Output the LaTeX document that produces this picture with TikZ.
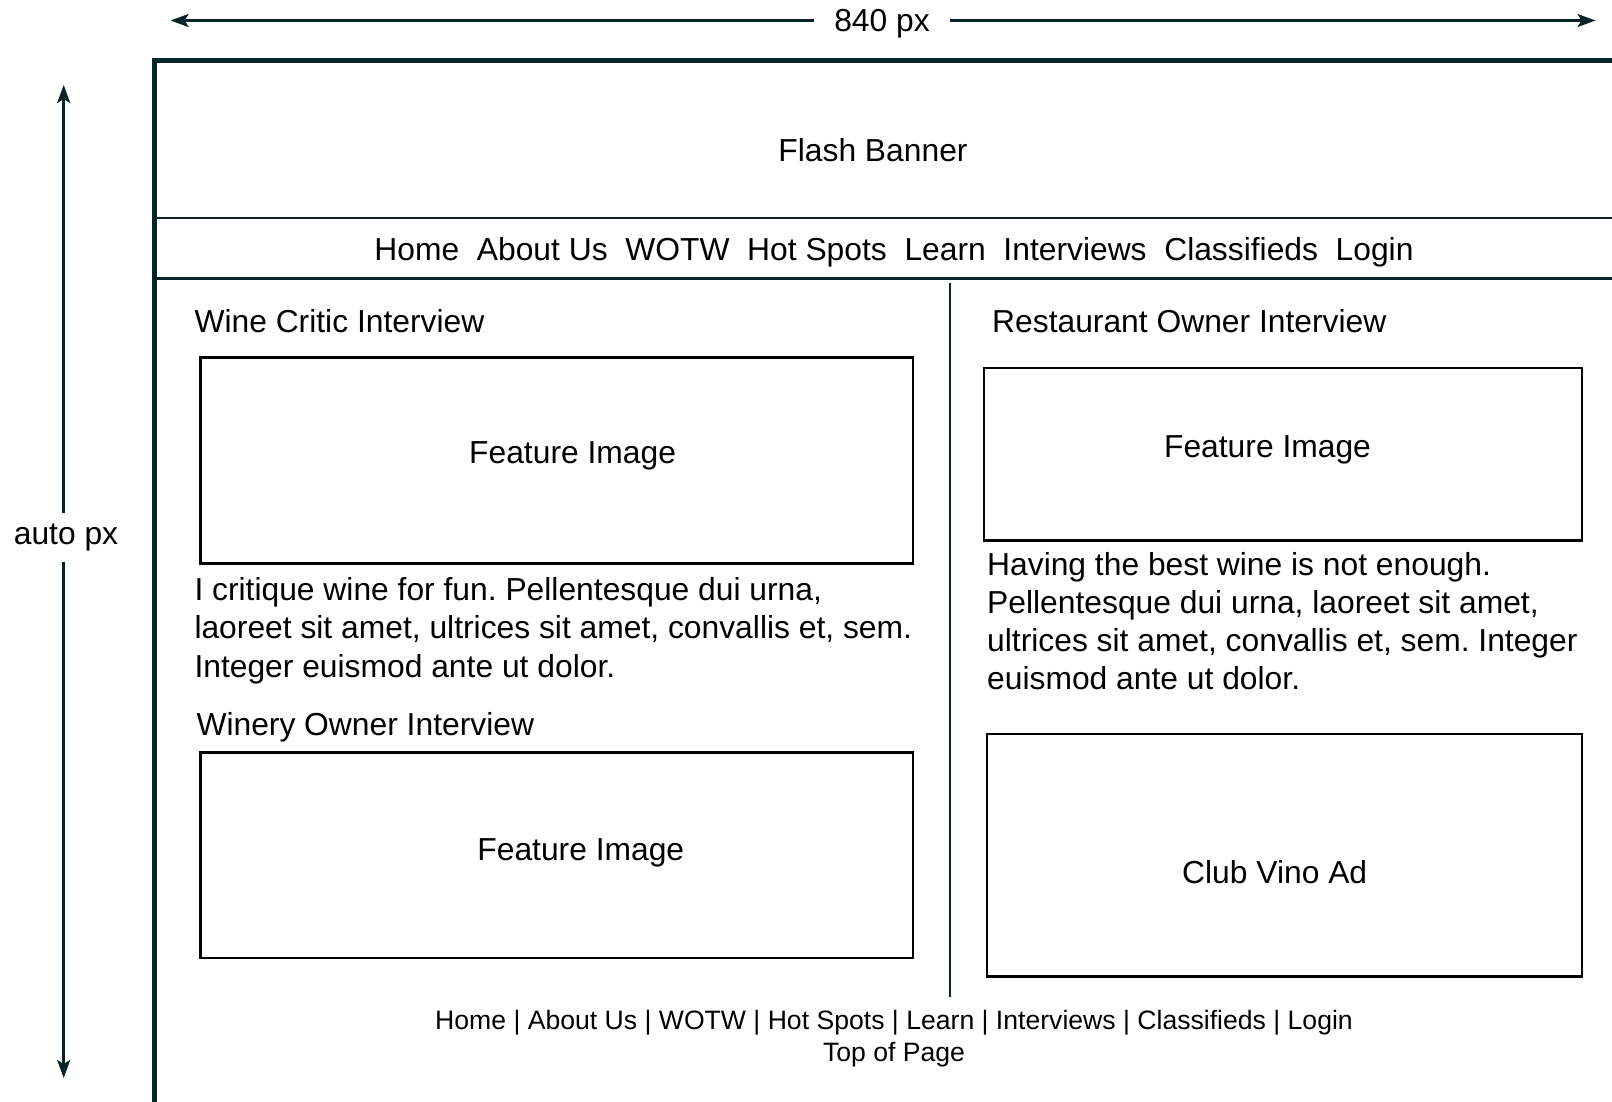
\documentclass[tikz,border=0pt]{standalone}
\usepackage{fontspec}
\setmainfont{Liberation Sans}
\usetikzlibrary{arrows.meta}
\definecolor{frameC}{RGB}{6,36,40}
\frenchspacing
\tikzset{
  big/.style={font=\fontsize{31.8}{38.2}\selectfont, inner sep=0pt},
  small/.style={font=\fontsize{26.6}{31.9}\selectfont, inner sep=0pt, anchor=base},
  lbl/.style={big, anchor=base},
  lbll/.style={big, anchor=base west},
  boxC/.style={draw=black, line width=2.5pt},
  dim/.style={draw=frameC, line width=2.5pt,
    {Stealth[length=18pt,width=13pt,inset=4pt]}-{Stealth[length=18pt,width=13pt,inset=4pt]}},
  frameline/.style={draw=frameC},
}
\begin{document}
\begin{tikzpicture}[x=1pt,y=-1pt]
\useasboundingbox (0,0) rectangle (1612,1101);
\clip (0,0) rectangle (1612,1101);
\fill[white] (0,0) rectangle (1612,1101);

% dimension arrows
\coordinate (wL) at (170.6,20.5);
\coordinate (wR) at (1595.5,20.5);
\draw[dim] (wL) -- (wR);
\node[lbl, fill=white, inner xsep=20pt, inner ysep=3pt] (wlabel) at (882,31.5) {840 px};

\coordinate (hT) at (63.7,85);
\coordinate (hB) at (63.7,1078);
\draw[dim] (hT) -- (hB);
\node[lbl, fill=white, inner xsep=2pt, inner ysep=11pt] (hlabel) at (66,544.5) {auto px};

% page frame
\draw[frameline, line width=5pt] (1650,60.6) -- (154,60.6) -- (154,1150);
\draw[frameline, line width=2.5pt] (154,218) -- (1650,218);
\draw[frameline, line width=2.5pt] (154,278.6) -- (1650,278.6);
\draw[frameline, line width=2pt] (950,282.7) -- (950,997);

% banner and nav
\node[lbl] (banner) at (873,161) {Flash Banner};
\node[lbl] (nav) at (894,260) {Home\ \ About Us\ \ WOTW\ \ Hot Spots\ \ Learn\ \ Interviews\ \ Classifieds\ \ Login};

% left column
\node[lbll] (h1) at (194.3,332) {Wine Critic Interview};
\draw[boxC] (200.5,357.7) rectangle (912.9,563.4);
\node[lbl] (fi1) at (572.6,463) {Feature Image};
\node[lbll] (p1a) at (194.3,600) {I critique wine for fun. Pellentesque dui urna,};
\node[lbll] (p1b) at (194.3,638.5) {laoreet sit amet, ultrices sit amet, convallis et, sem.};
\node[lbll] (p1c) at (194.3,677) {Integer euismod ante ut dolor.};

\node[lbll] (h2) at (196.3,735.7) {Winery Owner Interview};
\draw[boxC] (200.5,752.5) rectangle (912.9,958);
\node[lbl] (fi2) at (580.8,860) {Feature Image};

% right column
\node[lbll] (h3) at (992,332) {Restaurant Owner Interview};
\draw[boxC] (983.8,368) rectangle (1582,540.7);
\node[lbl] (fi3) at (1267.5,457) {Feature Image};
\node[lbll] (p2a) at (987,575) {Having the best wine is not enough.};
\node[lbll] (p2b) at (987,613) {Pellentesque dui urna, laoreet sit amet,};
\node[lbll] (p2c) at (987,651.4) {ultrices sit amet, convallis et, sem. Integer};
\node[lbll] (p2d) at (987,689.5) {euismod ante ut dolor.};

\draw[boxC] (987,734) rectangle (1582,976.6);
\node[lbl] (ad) at (1274.7,883.8) {Club Vino Ad};

% footer
\node[small] (foot1) at (894,1029) {Home | About Us | WOTW | Hot Spots | Learn | Interviews | Classifieds | Login};
\node[small] (foot2) at (894,1061) {Top of Page};
\end{tikzpicture}
\end{document}
